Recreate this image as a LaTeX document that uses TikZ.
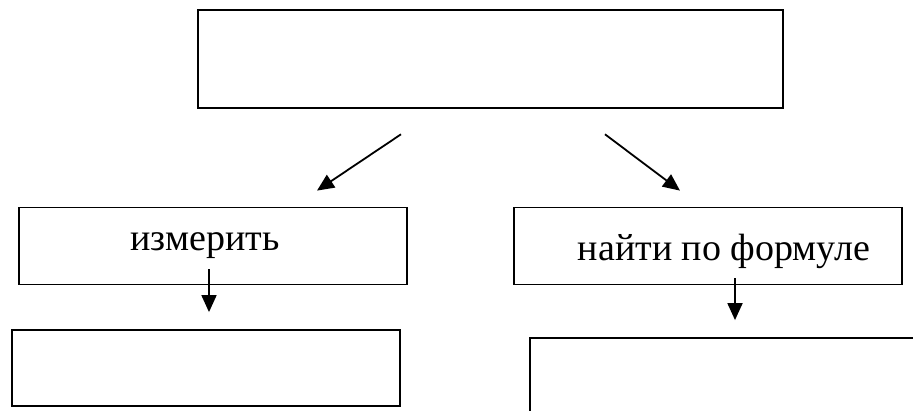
\documentclass[tikz,border=0pt]{standalone}
\usepackage{fontspec}
\setmainfont{Liberation Serif}
\usetikzlibrary{arrows.meta}
\begin{document}
\begin{tikzpicture}[x=1pt,y=-1pt,
  box/.style={draw=black, line width=1.8pt, rectangle, inner sep=0pt},
  lbl/.style={inner sep=0pt, anchor=base, font=\fontsize{38}{42}\selectfont},
  arr/.style={line width=1.8pt, -{Triangle[length=17pt,width=15pt]}}]
  \useasboundingbox (0,0) rectangle (913,410);
  \clip (0,0) rectangle (913,410);
  % top box
  \node[box, line width=2.6pt, minimum width=585pt, minimum height=98pt] (top) at (490.5,59) {};
  % second row
  \node[box, minimum width=388pt, minimum height=77pt] (left) at (213,246) {};
  \node[box, minimum width=388pt, minimum height=77pt] (right) at (708,246) {};
  \node[lbl] (lt) at (205,250) {измерить};
  \node[lbl] (rt) at (724,260) {найти по формуле};
  % third row
  \node[box, minimum width=388pt, minimum height=76pt] (bl) at (206,368) {};
  \node[box, minimum width=500pt, minimum height=200pt] (br) at (780,438) {};
  % connectors
  \draw[arr] ([shift={(-89.5,25)}]top.south) -- ([shift={(104,-16)}]left.north);
  \draw[arr] ([shift={(114.5,25)}]top.south) -- ([shift={(-28,-16)}]right.north);
  \draw[arr] ([shift={(-4,-16)}]left.south) -- ([shift={(3,-17)}]bl.north);
  \draw[arr] ([shift={(27,-7)}]right.south) -- ([shift={(-45,-17)}]br.north);
\end{tikzpicture}
\end{document}
